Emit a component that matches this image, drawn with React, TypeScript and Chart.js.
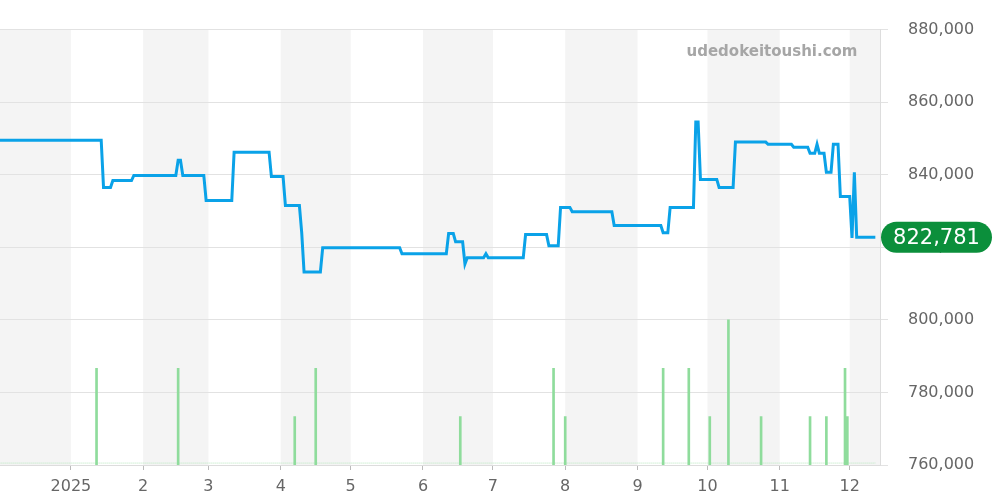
import React, { useEffect, useRef } from "react";
import { Chart, registerables } from "chart.js";

Chart.register(...registerables);

// Days counted from 2025-01-01
const monthStartDays = [0, 31, 59, 90, 120, 151, 181, 212, 243, 273, 304, 334];
const monthLabels = ["2025", "2", "3", "4", "5", "6", "7", "8", "9", "10", "11", "12"];
const shadedMonths: [number, number][] = [
  [-31, 0], [31, 59], [90, 120], [151, 181], [212, 243], [273, 304], [334, 365],
];

const yTicks = [760000, 780000, 800000, 820000, 840000, 860000, 880000];

// price segments: start day, end day, price
const segStart = [-31, 14, 18, 27, 46, 48, 58, 70, 86, 92, 99, 100, 108, 142, 162, 165, 169, 170, 178, 179, 195, 205, 210, 215, 233, 254, 257, 268, 270, 278, 285, 299, 310, 317, 320, 321, 324, 327, 330, 335, 336, 337];
const segEnd = [13, 17, 26, 45, 47, 57, 69, 85, 91, 98, 99, 107, 141, 161, 164, 168, 169, 177, 178, 194, 204, 209, 214, 232, 253, 256, 267, 269, 277, 284, 298, 309, 316, 319, 320, 323, 326, 329, 334, 335, 336, 345];
const segPrice = [849500, 836500, 838400, 839800, 844000, 839800, 832900, 846200, 839500, 831500, 824000, 813200, 819900, 818200, 823800, 821500, 815400, 817100, 818200, 817100, 823500, 820400, 831000, 829800, 826000, 824000, 831000, 854500, 838700, 836500, 849000, 848400, 847600, 845900, 848400, 845900, 840700, 848400, 834000, 822600, 840700, 822781];

const volumeDays = [11, 46, 96, 105, 167, 207, 212, 254, 265, 274, 282, 296, 317, 324, 332, 333];
const volumes = [2, 2, 1, 2, 1, 2, 1, 2, 2, 1, 3, 1, 1, 1, 2, 1];

const lastPrice = 822781;
const watermark = "udedokeitoushi.com";

export default function App() {
  const ref = useRef<HTMLCanvasElement | null>(null);

  useEffect(() => {
    if (!ref.current) return;
    const pricePts: { x: number; y: number }[] = [];
    segStart.forEach((s, i) => {
      pricePts.push({ x: s, y: segPrice[i] });
      if (segEnd[i] !== s) pricePts.push({ x: segEnd[i], y: segPrice[i] });
    });
    const volPts = volumeDays.map((d, i) => ({ x: d, y: volumes[i] }));

    const bandPlugin = {
      id: "bands",
      beforeDraw(chart: any) {
        const { ctx, chartArea, scales } = chart;
        ctx.save();
        ctx.fillStyle = "#f4f4f4";
        shadedMonths.forEach(([a, b]) => {
          const x1 = Math.max(chartArea.left, scales.x.getPixelForValue(a));
          const x2 = Math.min(chartArea.right, scales.x.getPixelForValue(b));
          if (x2 > x1) ctx.fillRect(x1, chartArea.top, x2 - x1, chartArea.bottom - chartArea.top);
        });
        ctx.restore();
      },
      afterDraw(chart: any) {
        const { ctx, chartArea, scales } = chart;
        ctx.save();
        ctx.font = "bold 15px 'DejaVu Sans'";
        ctx.fillStyle = "#a6a6a6";
        ctx.textAlign = "center";
        ctx.textBaseline = "middle";
        ctx.fillText(watermark, 772, 52);
        // badge
        const y = scales.y.getPixelForValue(lastPrice);
        const x = chartArea.right + 1;
        const w = 111, h = 31, r = 15.5;
        ctx.fillStyle = "#0b8f3b";
        ctx.beginPath();
        ctx.moveTo(x + r, y - h / 2);
        ctx.lineTo(x + w - r, y - h / 2);
        ctx.arc(x + w - r, y, r, -Math.PI / 2, Math.PI / 2);
        ctx.lineTo(x + r, y + h / 2);
        ctx.arc(x + r, y, r, Math.PI / 2, (3 * Math.PI) / 2);
        ctx.closePath();
        ctx.fill();
        ctx.fillStyle = "#ffffff";
        ctx.font = "21px 'DejaVu Sans'";
        ctx.textAlign = "center";
        ctx.fillText(lastPrice.toLocaleString("en-US"), x + w / 2, y + 1);
        ctx.restore();
      },
    };

    const chart = new Chart(ref.current, {
      type: "bar",
      data: {
        datasets: [
          {
            type: "line",
            data: pricePts,
            yAxisID: "y",
            borderColor: "#0aa2e8",
            borderWidth: 3,
            pointRadius: 0,
            tension: 0,
            order: 0,
          } as any,
          {
            type: "bar",
            data: volPts,
            yAxisID: "yv",
            backgroundColor: "#8fdc9c",
            barThickness: 2,
            order: 2,
          } as any,
          {
            type: "line",
            data: [{ x: -31, y: 0.04 }, { x: 345, y: 0.04 }],
            yAxisID: "yv",
            borderColor: "#b5e6bd",
            borderWidth: 1,
            borderDash: [1, 1],
            pointRadius: 0,
            order: 3,
          } as any,
        ],
      },
      options: {
        animation: false,
        responsive: true,
        maintainAspectRatio: false,
        layout: { padding: { top: 22, left: 0, right: 0, bottom: 0 } },
        plugins: { legend: { display: false }, tooltip: { enabled: false } },
        scales: {
          x: {
            type: "linear",
            min: -30.4,
            max: 347,
            offset: false,
            afterBuildTicks(scale: any) {
              scale.ticks = monthStartDays.map((v) => ({ value: v }));
            },
            afterFit(scale: any) {
              scale.height = 35;
            },
            ticks: {
              autoSkip: false,
              maxRotation: 0,
              color: "#666",
              font: { family: "'DejaVu Sans'", size: 16 },
              padding: 7,
              callback: (_v: any, i: number) => monthLabels[i],
            },
            grid: { drawOnChartArea: false, offset: false, tickLength: 5, color: "#bbb" },
            border: { display: true, color: "#dddddd" },
          },
          y: {
            position: "right",
            min: 760000,
            max: 880000,
            afterBuildTicks(scale: any) {
              scale.ticks = yTicks.map((v) => ({ value: v }));
            },
            afterFit(scale: any) {
              scale.width = 120;
            },
            ticks: {
              color: "#666",
              font: { family: "'DejaVu Sans'", size: 16 },
              padding: 20,
              callback: (v: any) => Number(v).toLocaleString("en-US"),
            },
            grid: { color: "#e2e2e2", tickLength: 8 },
            border: { display: true, color: "#dddddd" },
          },
          yv: {
            display: false,
            min: 0,
            max: 9,
          },
        },
      },
      plugins: [bandPlugin],
    });
    return () => chart.destroy();
  }, []);

  return (
    <div style={{ position: "fixed", left: 0, top: 0, width: 1000, height: 500, background: "#fff" }}>
      <canvas ref={ref} />
    </div>
  );
}
